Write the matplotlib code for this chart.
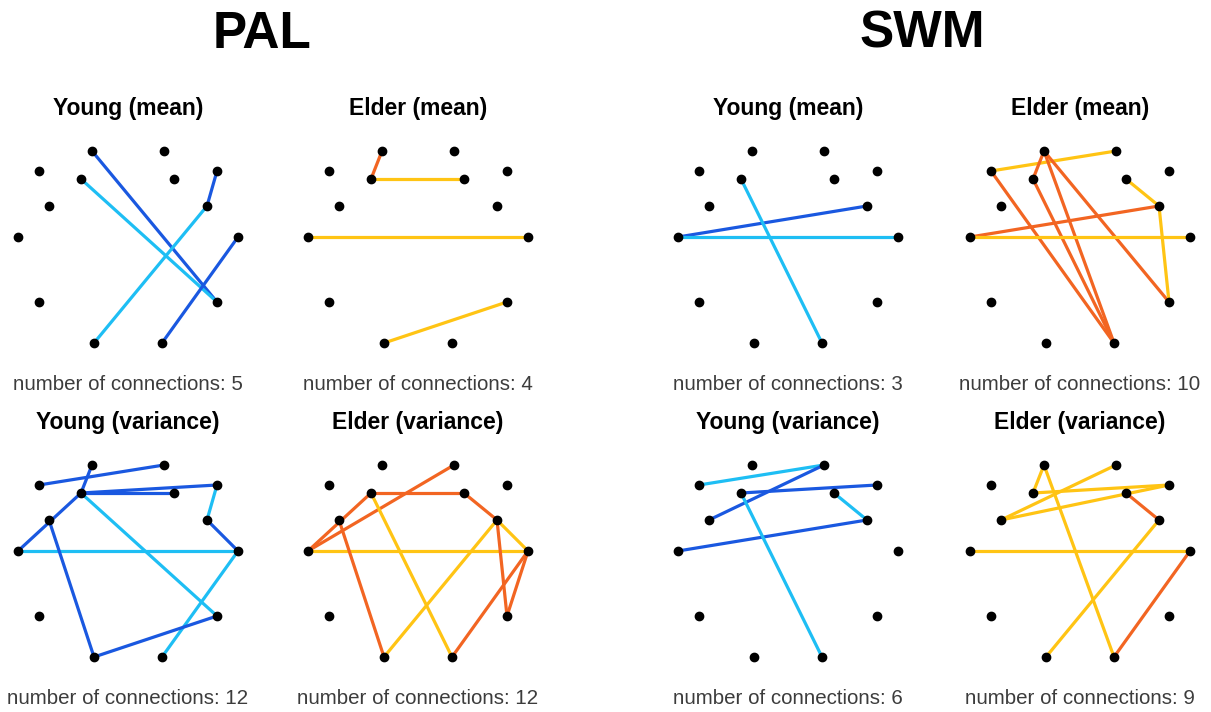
import matplotlib
matplotlib.use("Agg")
import matplotlib.pyplot as plt

plt.rcParams['font.family'] = ['Liberation Sans', 'DejaVu Sans']

# electrode layout (Emotiv 14 channels), offsets in px from the T7-T8 midline
channels = ["AF3", "AF4", "F7", "F8", "F3", "F4", "FC5", "FC6", "T7", "T8", "P7", "P8", "O1", "O2"]
chan_x = [-36, 36, -89, 89, -47, 46, -79, 79, -110, 110, -89, 89, -34, 34]
chan_y = [86, 86, 66, 66, 58, 58, 31, 31, 0, 0, -65, -65, -106, -106]

# connections for each task / group; level 1 = strong, 0 = weak
pal_young_mean = [("AF3", "P8"), ("F3", "P8"), ("F8", "FC6"), ("FC6", "O1"), ("T8", "O2")]
pal_young_mean_lvl = [1, 0, 1, 0, 1]
pal_elder_mean = [("AF3", "F3"), ("F3", "F4"), ("T7", "T8"), ("O1", "P8")]
pal_elder_mean_lvl = [1, 0, 0, 0]
pal_young_var = [("F7", "AF4"), ("AF3", "F3"), ("F3", "F4"), ("F3", "F8"), ("T7", "F3"), ("F3", "P8"),
                 ("T7", "T8"), ("F8", "FC6"), ("FC6", "T8"), ("T8", "O2"), ("FC5", "O1"), ("O1", "P8")]
pal_young_var_lvl = [1, 1, 1, 1, 1, 0, 0, 0, 1, 0, 1, 1]
pal_elder_var = [("T7", "AF4"), ("T7", "F3"), ("F3", "F4"), ("F4", "FC6"), ("F3", "O2"), ("T7", "T8"),
                 ("FC6", "T8"), ("FC6", "O1"), ("FC5", "O1"), ("FC6", "P8"), ("T8", "P8"), ("T8", "O2")]
pal_elder_var_lvl = [1, 1, 1, 1, 0, 0, 0, 0, 1, 1, 1, 1]

swm_young_mean = [("T7", "FC6"), ("T7", "T8"), ("F3", "O2")]
swm_young_mean_lvl = [1, 0, 0]
swm_elder_mean = [("F7", "AF4"), ("F7", "O2"), ("AF3", "F3"), ("F3", "O2"), ("AF3", "O2"),
                  ("AF3", "P8"), ("F4", "FC6"), ("FC6", "P8"), ("T7", "FC6"), ("T7", "T8")]
swm_elder_mean_lvl = [0, 1, 1, 1, 1, 1, 0, 0, 1, 0]
swm_young_var = [("F7", "AF4"), ("AF4", "FC5"), ("F3", "F8"), ("F4", "FC6"), ("T7", "FC6"), ("F3", "O2")]
swm_young_var_lvl = [0, 1, 1, 0, 1, 0]
swm_elder_var = [("AF3", "F3"), ("AF3", "O2"), ("F3", "F8"), ("FC5", "AF4"), ("FC5", "F8"),
                 ("F4", "FC6"), ("FC6", "O1"), ("T7", "T8"), ("T8", "O2")]
swm_elder_var_lvl = [0, 0, 0, 0, 0, 1, 0, 0, 1]

young_colors = ["#1ebef4", "#1a58e0"]
elder_colors = ["#ffc414", "#f26522"]

W, H = 1211, 712
fig = plt.figure(figsize=(W / 100, H / 100), dpi=100)

def draw_net(cx, cy, title, edges, levels, colors):
    half = 130
    ax = fig.add_axes([(cx - half) / W, 1 - (cy + half) / H, 2 * half / W, 2 * half / H])
    ax.set_xlim(-half, half)
    ax.set_ylim(-half, half)
    ax.axis("off")
    pos = dict(zip(channels, zip(chan_x, chan_y)))
    for (a, b), lv in zip(edges, levels):
        ax.plot([pos[a][0], pos[b][0]], [pos[a][1], pos[b][1]], color=colors[lv],
                lw=2.3, solid_capstyle="round", zorder=1)
    ax.plot(chan_x, chan_y, "o", color="black", ms=6, zorder=2)
    ax.text(0, 128, title, ha="center", va="center", fontsize=16.5, fontweight="bold")
    ax.text(0, -147, "number of connections: %d" % len(edges), ha="center", va="center",
            fontsize=14.8, color="#3c3c3c")

draw_net(128, 237, "Young (mean)", pal_young_mean, pal_young_mean_lvl, young_colors)
draw_net(418, 237, "Elder (mean)", pal_elder_mean, pal_elder_mean_lvl, elder_colors)
draw_net(128, 551, "Young (variance)", pal_young_var, pal_young_var_lvl, young_colors)
draw_net(418, 551, "Elder (variance)", pal_elder_var, pal_elder_var_lvl, elder_colors)

draw_net(788, 237, "Young (mean)", swm_young_mean, swm_young_mean_lvl, young_colors)
draw_net(1080, 237, "Elder (mean)", swm_elder_mean, swm_elder_mean_lvl, elder_colors)
draw_net(788, 551, "Young (variance)", swm_young_var, swm_young_var_lvl, young_colors)
draw_net(1080, 551, "Elder (variance)", swm_elder_var, swm_elder_var_lvl, elder_colors)

fig.text(262 / W, 1 - 34 / H, "PAL", ha="center", va="center", fontsize=37, fontweight="bold")
fig.text(922 / W, 1 - 34 / H, "SWM", ha="center", va="center", fontsize=37, fontweight="bold")

fig.savefig("out.png", dpi=100)
